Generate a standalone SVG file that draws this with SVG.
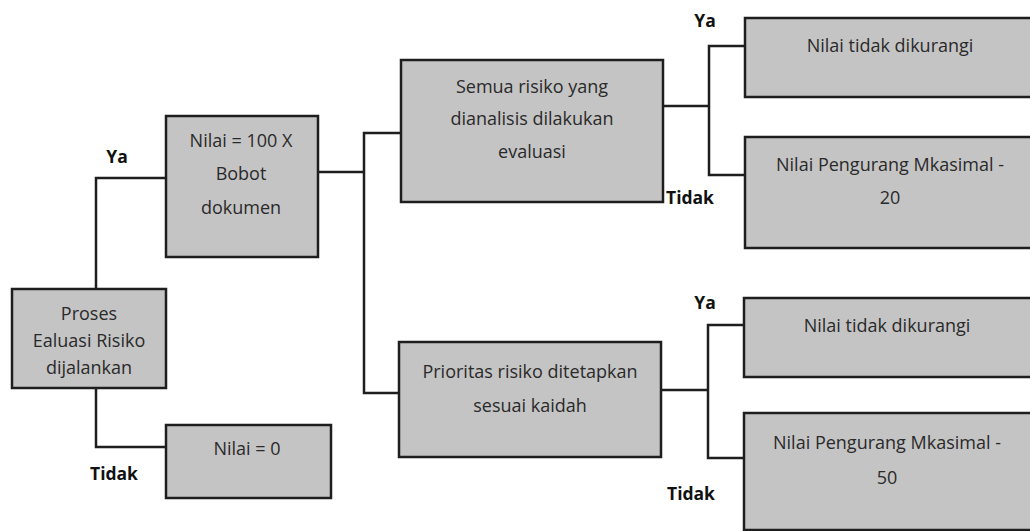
<svg xmlns="http://www.w3.org/2000/svg" width="1030" height="531" viewBox="0 0 1030 531">
<style>
.box{fill:#c4c4c4;stroke:#1e1e1e;stroke-width:2.5}
.t{font-family:"Open Sans","Liberation Sans",sans-serif;font-size:18px;fill:#2a2a2a;text-anchor:middle;dominant-baseline:central}
.lbl{font-family:"Open Sans","Liberation Sans",sans-serif;font-size:17.5px;font-weight:bold;fill:#111;text-anchor:middle;dominant-baseline:central}
.c{fill:none;stroke:#1e1e1e;stroke-width:2.5}
</style>
<rect width="1030" height="531" fill="#ffffff"/>
<g id="connectors">
<polyline class="c" points="96,289 96,178 166,178"/>
<polyline class="c" points="96,388 96,447 166,447"/>
<polyline class="c" points="318,172 364,172"/>
<polyline class="c" points="401,133 364,133 364,393 399,393"/>
<polyline class="c" points="663,106 709,106"/>
<polyline class="c" points="745,46 709,46 709,175 745,175"/>
<polyline class="c" points="661,390 708,390"/>
<polyline class="c" points="744,325 708,325 708,458 744,458"/>
</g>
<g id="labels">
<text class="lbl" x="117" y="156">Ya</text>
<text class="lbl" x="114" y="473">Tidak</text>
<text class="lbl" x="705" y="20">Ya</text>
<text class="lbl" x="690" y="197">Tidak</text>
<text class="lbl" x="705" y="302">Ya</text>
<text class="lbl" x="691" y="493">Tidak</text>
</g>
<g id="n-proses">
<rect class="box" x="12" y="289" width="154" height="99"/>
<text class="t" x="89" y="313">Proses</text>
<text class="t" x="89" y="340">Ealuasi Risiko</text>
<text class="t" x="89" y="367">dijalankan</text>
</g>
<g id="n-nilai100">
<rect class="box" x="166" y="116" width="152" height="141"/>
<text class="t" x="241" y="140">Nilai = 100 X</text>
<text class="t" x="241" y="173">Bobot</text>
<text class="t" x="241" y="207">dokumen</text>
</g>
<g id="n-nilai0">
<rect class="box" x="166" y="425" width="165" height="73"/>
<text class="t" x="247" y="448">Nilai = 0</text>
</g>
<g id="n-semua">
<rect class="box" x="401" y="60" width="262" height="142"/>
<text class="t" x="532" y="86">Semua risiko yang</text>
<text class="t" x="532" y="118">dianalisis dilakukan</text>
<text class="t" x="532" y="151">evaluasi</text>
</g>
<g id="n-prioritas">
<rect class="box" x="399" y="342" width="262" height="115"/>
<text class="t" x="530" y="371">Prioritas risiko ditetapkan</text>
<text class="t" x="530" y="405">sesuai kaidah</text>
</g>
<g id="n-tidak1">
<rect class="box" x="745" y="18" width="295" height="79"/>
<text class="t" x="890" y="45">Nilai tidak dikurangi</text>
</g>
<g id="n-pengurang20">
<rect class="box" x="745" y="137" width="295" height="111"/>
<text class="t" x="890" y="164">Nilai Pengurang Mkasimal -</text>
<text class="t" x="890" y="197">20</text>
</g>
<g id="n-tidak2">
<rect class="box" x="744" y="298" width="296" height="79"/>
<text class="t" x="887" y="325">Nilai tidak dikurangi</text>
</g>
<g id="n-pengurang50">
<rect class="box" x="744" y="413" width="296" height="117"/>
<text class="t" x="887" y="442">Nilai Pengurang Mkasimal -</text>
<text class="t" x="887" y="477">50</text>
</g>
</svg>
